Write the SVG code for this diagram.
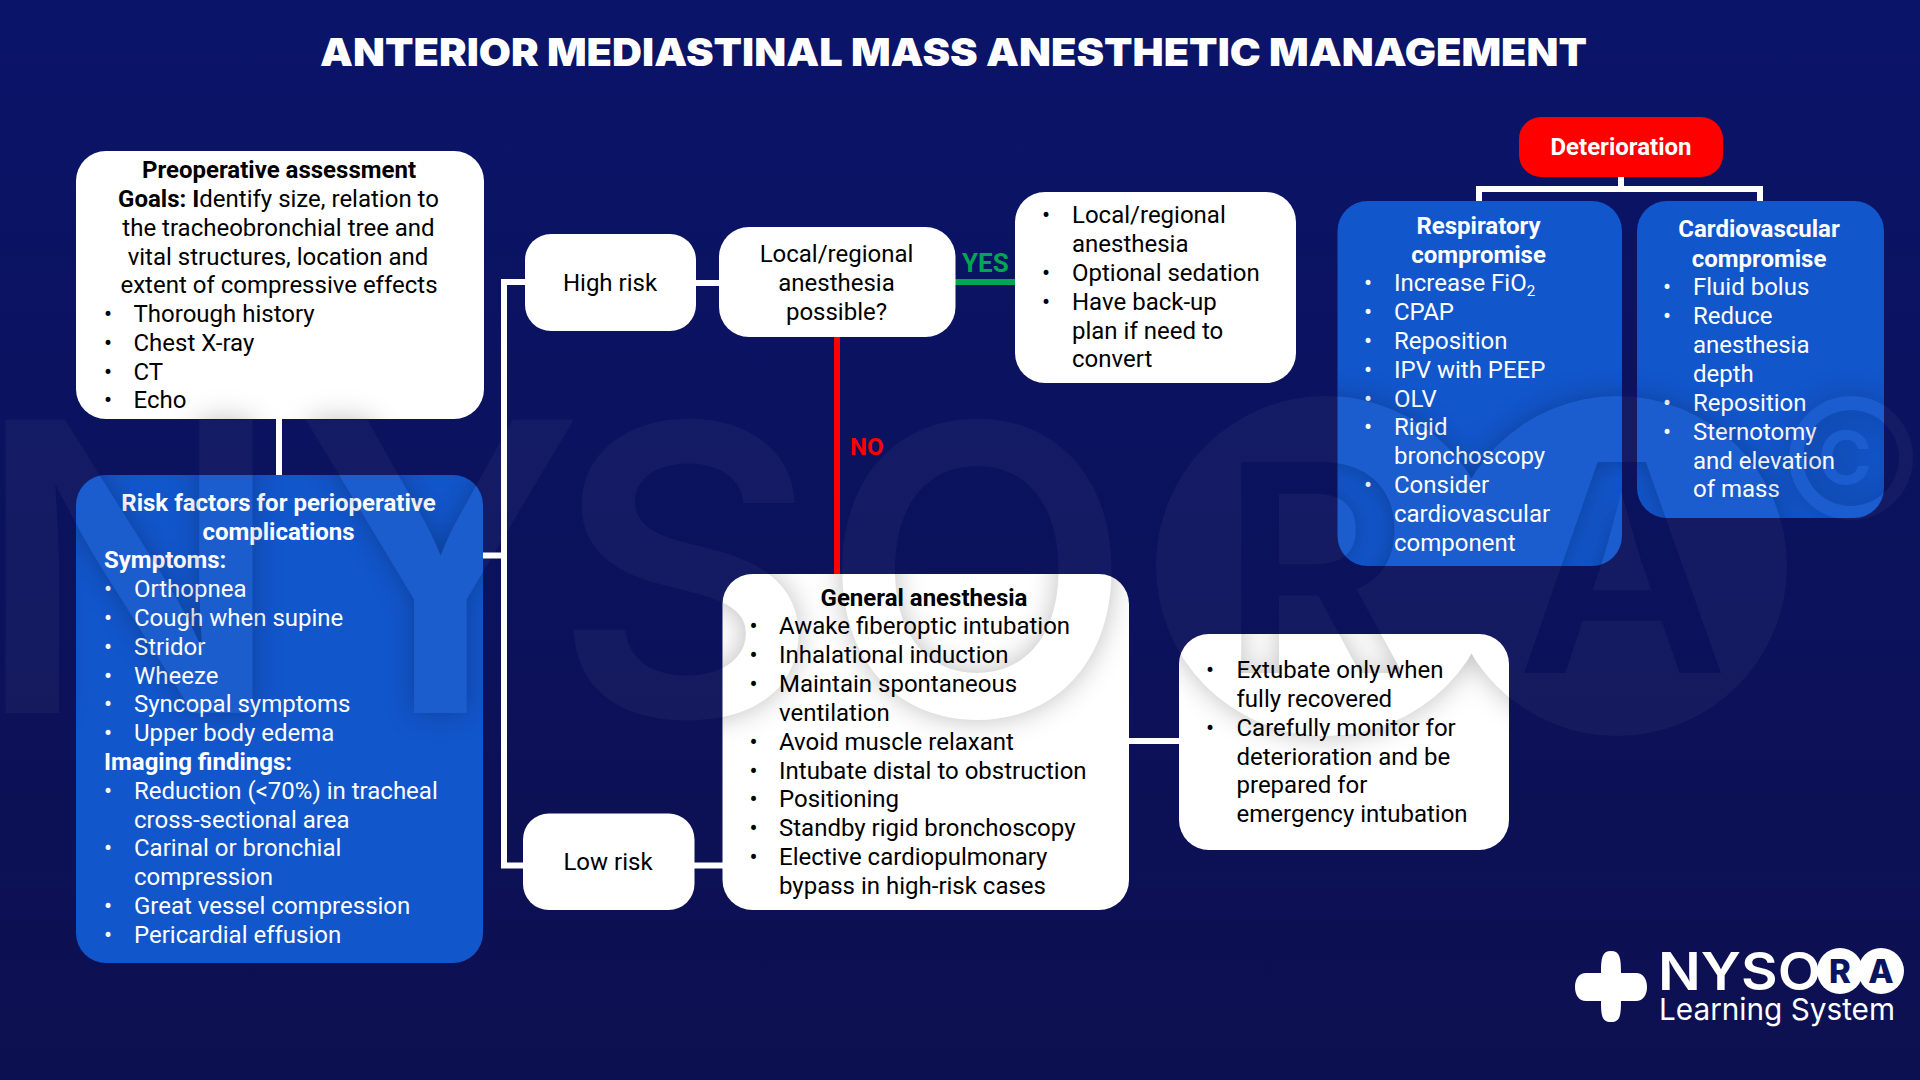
<svg xmlns="http://www.w3.org/2000/svg" width="1920" height="1080" viewBox="0 0 1920 1080">
<style>
text{font-family:Roboto,"Liberation Sans",sans-serif;font-size:24px;fill:#000}
.w text,text.w{fill:#fff}
.b{font-weight:700}
.c{text-anchor:middle}
.wh{fill:#fff}
.bl{fill:#1256cc}
.conn{stroke:#fff;stroke-width:6;fill:none}
text.wm{font-family:Inter,"Open Sans",sans-serif;font-weight:600;font-size:403px;fill:inherit}
text.wl{font-size:290px}
text.wc{font-weight:700;font-size:73px;text-anchor:middle}
text.lg{font-family:Inter,"Open Sans",sans-serif;fill:#fff}
</style>
<defs>
<linearGradient id="bg" x1="0" y1="0" x2="0" y2="1"><stop offset="0" stop-color="#0a1469"/><stop offset="1" stop-color="#0d1050"/></linearGradient>
<g id="wmShapes">
<text class="wm" x="-24" y="713">N</text>
<text class="wm" x="296" y="713">Y</text>
<text class="wm" x="555" y="716">S</text>
<text class="wm" x="822" y="716">O</text>
<circle cx="1326" cy="566" r="170"/><circle cx="1617" cy="566" r="170"/>
<path fill-rule="evenodd" d="M1851 396a62 62 0 1 0 .1 0zM1851 410a48 48 0 1 1-.1 0z"/>
<text class="wm wc" x="1845" y="484">C</text>
</g>
<g id="wmLetters">
<text class="wm wl" x="1220" y="673">R</text>
<text class="wm wl" x="1517" y="673">A</text>
</g>
<mask id="wmM" maskUnits="userSpaceOnUse" x="0" y="0" width="1920" height="1080">
<rect width="1920" height="1080" fill="#000"/><use href="#wmShapes" fill="#fff"/><use href="#wmLetters" fill="#000"/>
</mask>
<mask id="wmInv" maskUnits="userSpaceOnUse" x="0" y="0" width="1920" height="1080">
<rect width="1920" height="1080" fill="#fff"/><use href="#wmShapes" fill="#000"/><use href="#wmLetters" fill="#fff"/>
</mask>
<clipPath id="boxes">
<rect x="76" y="151" width="408" height="268" rx="30"/>
<rect x="722.500" y="574" width="406.500" height="336" rx="30"/>
<rect x="1179" y="634" width="330" height="216" rx="30"/>
<rect x="76" y="475" width="407" height="488" rx="30"/>
<rect x="1337.500" y="201" width="284.500" height="365" rx="30"/>
<rect x="1637" y="201" width="247" height="317" rx="30"/>
</clipPath>
<clipPath id="blues">
<rect x="76" y="475" width="407" height="488" rx="30"/>
<rect x="1337.500" y="201" width="284.500" height="365" rx="30"/>
<rect x="1637" y="201" width="247" height="317" rx="30"/>
</clipPath>
<filter id="soft" filterUnits="userSpaceOnUse" x="0" y="300" width="1920" height="500"><feGaussianBlur stdDeviation="14"/></filter>
</defs>

<rect width="1920" height="1080" fill="url(#bg)"/>
<rect id="watermark" width="1920" height="1080" fill="#fff" opacity=".035" mask="url(#wmM)"/>

<g id="connectors">
<path class="conn" d="M279 419V475M483 555.500H504M525 282H504V865.500H524M694 865.500H723M696 283H720M1129 741H1179M1621 177V189M1479 201V189H1760V201"/>
<path d="M955 282H1015" stroke="#00a651" stroke-width="6" fill="none"/>
<path d="M837 337V574" stroke="#f00" stroke-width="6" fill="none"/>
<text id="lbl-yes" class="b" x="962" y="272" style="fill:#00a651;font-size:26px">YES</text>
<text id="lbl-no" class="b" x="850" y="455" style="fill:#f00">NO</text>
</g>

<text x="320" y="66" textLength="1267" lengthAdjust="spacingAndGlyphs" style="font-family:Inter,sans-serif;font-weight:900;font-size:39px;fill:#fff">ANTERIOR MEDIASTINAL MASS ANESTHETIC MANAGEMENT</text>

<g id="preop">
<rect class="wh" x="76" y="151" width="408" height="268" rx="30"/>
<text class="b c" x="279" y="178">Preoperative assessment</text>
<text class="c" x="278.500" y="207"><tspan class="b">Goals: I</tspan>dentify size, relation to</text>
<text class="c" x="278.500" y="236">the tracheobronchial tree and</text>
<text class="c" x="278" y="264.500">vital structures, location and</text>
<text class="c" x="279" y="293">extent of compressive effects</text>
<text x="104" y="322">•</text><text x="133.500" y="322">Thorough history</text>
<text x="104" y="350.500">•</text><text x="133.500" y="350.500">Chest X-ray</text>
<text x="104" y="379.500">•</text><text x="133.500" y="379.500">CT</text>
<text x="104" y="408">•</text><text x="133.500" y="408">Echo</text>
</g>

<g id="risk" class="w">
<rect class="bl" x="76" y="475" width="407" height="488" rx="30"/>
<text class="b c" x="278.500" y="511">Risk factors for perioperative</text>
<text class="b c" x="278.500" y="540">complications</text>
<text class="b" x="104" y="568">Symptoms:</text>
<text x="104" y="597">•</text><text x="134" y="597">Orthopnea</text>
<text x="104" y="626">•</text><text x="134" y="626">Cough when supine</text>
<text x="104" y="655">•</text><text x="134" y="655">Stridor</text>
<text x="104" y="683.500">•</text><text x="134" y="683.500">Wheeze</text>
<text x="104" y="712">•</text><text x="134" y="712">Syncopal symptoms</text>
<text x="104" y="741">•</text><text x="134" y="741">Upper body edema</text>
<text class="b" x="104" y="770">Imaging findings:</text>
<text x="104" y="799">•</text><text x="134" y="799">Reduction (&lt;70%) in tracheal</text>
<text x="134" y="828">cross-sectional area</text>
<text x="104" y="856">•</text><text x="134" y="856">Carinal or bronchial</text>
<text x="134" y="885">compression</text>
<text x="104" y="914">•</text><text x="134" y="914">Great vessel compression</text>
<text x="104" y="943">•</text><text x="134" y="943">Pericardial effusion</text>
</g>

<g id="high-risk">
<rect class="wh" x="525" y="234" width="171" height="97" rx="26"/>
<text class="c" x="610" y="291">High risk</text>
</g>

<g id="low-risk">
<rect class="wh" x="523" y="813.500" width="171.500" height="96.500" rx="26"/>
<text class="c" x="608" y="870">Low risk</text>
</g>

<g id="local-q">
<rect class="wh" x="719" y="227" width="236.500" height="110" rx="30"/>
<text class="c" x="836.500" y="262">Local/regional</text>
<text class="c" x="836.500" y="291">anesthesia</text>
<text class="c" x="836.500" y="320">possible?</text>
</g>

<g id="local-plan">
<rect class="wh" x="1015" y="192" width="281" height="191" rx="30"/>
<text x="1042" y="223">•</text><text x="1072" y="223">Local/regional</text>
<text x="1072" y="252">anesthesia</text>
<text x="1042" y="281">•</text><text x="1072" y="281">Optional sedation</text>
<text x="1042" y="310">•</text><text x="1072" y="310">Have back-up</text>
<text x="1072" y="338.500">plan if need to</text>
<text x="1072" y="367">convert</text>
</g>

<g id="general">
<rect class="wh" x="722.500" y="574" width="406.500" height="336" rx="30"/>
<text class="b c" x="924" y="605.500">General anesthesia</text>
<text x="749.500" y="634">•</text><text x="779" y="634">Awake fiberoptic intubation</text>
<text x="749.500" y="663">•</text><text x="779" y="663">Inhalational induction</text>
<text x="749.500" y="692">•</text><text x="779" y="692">Maintain spontaneous</text>
<text x="779" y="721">ventilation</text>
<text x="749.500" y="749.500">•</text><text x="779" y="749.500">Avoid muscle relaxant</text>
<text x="749.500" y="778.500">•</text><text x="779" y="778.500">Intubate distal to obstruction</text>
<text x="749.500" y="807">•</text><text x="779" y="807">Positioning</text>
<text x="749.500" y="836">•</text><text x="779" y="836">Standby rigid bronchoscopy</text>
<text x="749.500" y="865">•</text><text x="779" y="865">Elective cardiopulmonary</text>
<text x="779" y="893.500">bypass in high-risk cases</text>
</g>

<g id="extubate">
<rect class="wh" x="1179" y="634" width="330" height="216" rx="30"/>
<text x="1206" y="678">•</text><text x="1236.500" y="678">Extubate only when</text>
<text x="1236.500" y="707">fully recovered</text>
<text x="1206" y="735.500">•</text><text x="1236.500" y="735.500">Carefully monitor for</text>
<text x="1236.500" y="764.500">deterioration and be</text>
<text x="1236.500" y="793">prepared for</text>
<text x="1236.500" y="822">emergency intubation</text>
</g>

<g id="deterioration">
<rect x="1519" y="117" width="204" height="60" rx="22" fill="#f00"/>
<text class="b c" x="1621" y="154.500" style="fill:#fff">Deterioration</text>
</g>

<g id="respiratory" class="w">
<rect class="bl" x="1337.500" y="201" width="284.500" height="365" rx="30"/>
<text class="b c" x="1478.500" y="233.500">Respiratory</text>
<text class="b c" x="1478.500" y="262.500">compromise</text>
<text x="1364" y="291">•</text><text x="1394" y="291">Increase FiO<tspan dy="5" style="font-size:15px">2</tspan></text>
<text x="1364" y="320">•</text><text x="1394" y="320">CPAP</text>
<text x="1364" y="349">•</text><text x="1394" y="349">Reposition</text>
<text x="1364" y="378">•</text><text x="1394" y="378">IPV with PEEP</text>
<text x="1364" y="406.500">•</text><text x="1394" y="406.500">OLV</text>
<text x="1364" y="435">•</text><text x="1394" y="435">Rigid</text>
<text x="1394" y="464">bronchoscopy</text>
<text x="1364" y="493">•</text><text x="1394" y="493">Consider</text>
<text x="1394" y="522">cardiovascular</text>
<text x="1394" y="551">component</text>
</g>

<g id="cardiovascular" class="w">
<rect class="bl" x="1637" y="201" width="247" height="317" rx="30"/>
<text class="b c" x="1759" y="237">Cardiovascular</text>
<text class="b c" x="1759" y="266.500">compromise</text>
<text x="1663" y="295">•</text><text x="1693" y="295">Fluid bolus</text>
<text x="1663" y="324">•</text><text x="1693" y="324">Reduce</text>
<text x="1693" y="353">anesthesia</text>
<text x="1693" y="382">depth</text>
<text x="1663" y="411">•</text><text x="1693" y="411">Reposition</text>
<text x="1663" y="439.500">•</text><text x="1693" y="439.500">Sternotomy</text>
<text x="1693" y="468.500">and elevation</text>
<text x="1693" y="497">of mass</text>
</g>

<g clip-path="url(#blues)"><rect width="1920" height="1080" fill="#fff" opacity=".04" mask="url(#wmM)"/></g>
<g clip-path="url(#boxes)"><g mask="url(#wmInv)"><g filter="url(#soft)"><rect width="1920" height="1080" fill="#000" opacity=".25" mask="url(#wmM)"/></g></g></g>

<g id="logo">
<path d="M1611 951c9 0 10 7 10 22h15c7 0 11 6 11 14s-4 14-11 14h-15c0 15-1 21-10 21s-10-6-10-21h-15c-7 0-11-6-11-14s4-14 11-14h15c0-15 1-22 10-22z" fill="#fff"/>
<text class="lg" x="1658" y="990" textLength="163" lengthAdjust="spacingAndGlyphs" style="font-weight:600;font-size:52px">NYSO</text>
<circle cx="1840" cy="971" r="23" fill="#fff"/><circle cx="1881" cy="971" r="23" fill="#fff"/>
<text class="lg c" x="1840" y="983" style="font-weight:800;font-size:33px;fill:#0b1460">R</text>
<text class="lg c" x="1881" y="983" style="font-weight:800;font-size:33px;fill:#0b1460">A</text>
<text class="lg" x="1659" y="1020" textLength="236" lengthAdjust="spacingAndGlyphs" style="font-size:30px">Learning System</text>
</g>
</svg>
